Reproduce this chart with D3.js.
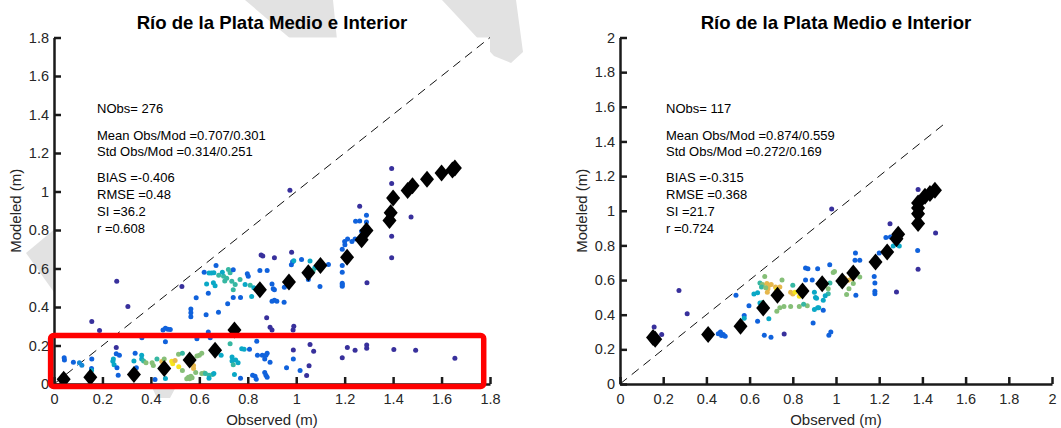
<!DOCTYPE html>
<html>
<head>
<meta charset="utf-8">
<script src="https://cdn.jsdelivr.net/npm/d3@7"></script>
<style>
  body { margin: 0; background: #fff; }
  svg { display: block; font-family: "Liberation Sans", Arial, Helvetica, sans-serif; }
  .axis path, .axis line { stroke: #1a1a1a; stroke-width: 2.5; }
  .axis text { fill: #262626; font-size: 14.5px; font-family: "Liberation Sans", Arial, sans-serif; }
</style>
</head>
<body>
<svg id="chart"></svg>
<script>
// scatter points: [observed, modeled, density level 0..7]
const ptsA = [
  [0.042,0.136,1],[0.043,0.125,1],[0.08,0.113,1],[0.105,0.11,2],[0.115,0.097,2],[0.156,0.13,1],[0.155,0.08,1],
  [0.155,0.07,3],[0.156,0.325,0],[0.188,0.278,0],[0.257,0.19,0],[0.257,0.157,1],[0.245,0.13,3],[0.243,0.118,3],
  [0.248,0.10,3],[0.27,0.15,1],[0.26,0.085,1],[0.265,0.045,1],[0.305,0.403,0],[0.259,0.534,0],[0.335,0.16,1],
  [0.33,0.12,3],[0.34,0.085,1],[0.362,0.15,3],[0.362,0.13,3],[0.363,0.24,1],[0.37,0.12,4],[0.38,0.11,5],
  [0.41,0.096,5],[0.405,0.11,5],[0.417,0.023,1],[0.425,0.13,4],[0.445,0.117,6],[0.455,0.13,5],[0.46,0.29,1],
  [0.47,0.285,1],[0.45,0.28,1],[0.48,0.283,1],[0.46,0.22,1],[0.46,0.028,3],[0.486,0.118,7],[0.49,0.105,7],
  [0.50,0.122,6],[0.514,0.155,5],[0.515,0.09,7],[0.53,0.16,4],[0.548,0.027,5],[0.555,0.035,5],[0.56,0.027,5],
  [0.565,0.04,5],[0.57,0.032,5],[0.53,0.07,5],[0.576,0.096,6],[0.576,0.08,6],[0.585,0.06,5],[0.60,0.15,5],
  [0.59,0.145,5],[0.59,0.235,1],[0.61,0.16,5],[0.61,0.055,5],[0.62,0.057,5],[0.625,0.055,4],[0.64,0.045,4],
  [0.64,0.03,3],[0.655,0.05,4],[0.66,0.055,3],[0.637,0.27,1],[0.645,0.24,1],[0.69,0.15,3],[0.727,0.209,4],
  [0.735,0.14,3],[0.735,0.12,3],[0.74,0.1,4],[0.745,0.05,3],[0.75,0.125,3],[0.76,0.11,3],[0.775,0.183,3],
  [0.785,0.18,3],[0.77,0.03,1],[0.807,0.18,1],[0.837,0.222,1],[0.82,0.045,1],[0.83,0.04,1],[0.835,0.025,1],
  [0.84,0.15,1],[0.86,0.15,1],[0.875,0.15,1],[0.87,0.13,1],[0.88,0.16,1],[0.87,0.06,1],[0.875,0.045,1],
  [0.88,0.035,1],[0.892,0.113,1],[0.892,0.295,0],[0.90,0.28,0],[0.96,0.084,1],[0.988,0.177,0],[0.988,0.13,1],
  [1.016,0.07,1],[1.043,0.044,0],[1.057,0.205,0],[1.072,0.17,0],[1.053,0.095,0],[1.19,0.136,0],[1.211,0.19,0],
  [1.243,0.175,0],[1.291,0.203,0],[1.291,0.186,0],[1.403,0.179,0],[1.493,0.175,0],[1.655,0.134,0],[0.987,0.28,0],
  [0.99,0.30,0],[0.878,0.344,0],
  [0.528,0.507,0],[0.669,0.616,1],[0.64,0.576,3],[0.65,0.576,3],[0.66,0.578,3],[0.63,0.52,3],[0.637,0.472,1],
  [0.62,0.58,1],[0.658,0.526,3],[0.665,0.51,3],[0.70,0.56,4],[0.713,0.55,4],[0.727,0.578,4],[0.734,0.534,4],
  [0.748,0.517,4],[0.74,0.49,4],[0.74,0.594,1],[0.768,0.543,4],[0.789,0.517,3],[0.81,0.513,4],[0.802,0.56,1],
  [0.798,0.573,1],[0.74,0.45,1],[0.77,0.45,1],[0.717,0.417,1],[0.679,0.373,1],[0.587,0.448,1],[0.565,0.35,1],
  [0.565,0.37,1],[0.565,0.39,1],[0.628,0.36,1],[0.816,0.455,3],[0.825,0.50,3],[0.855,0.67,0],[0.862,0.665,0],
  [0.91,0.656,0],[0.85,0.59,1],[0.88,0.59,1],[0.90,0.52,1],[0.905,0.495,1],[0.91,0.49,1],[0.90,0.43,1],
  [0.91,0.435,1],[0.92,0.43,1],[0.95,0.425,1],[0.981,0.685,0],[0.98,0.62,1],[0.985,0.635,1],[0.99,0.64,3],
  [0.951,0.503,1],[1.022,0.647,1],[1.057,0.639,3],[1.077,0.604,3],[1.105,0.612,4],[1.133,0.621,1],[1.05,0.543,1],
  [1.07,0.59,4],[1.098,0.507,1],[1.19,0.70,1],[1.19,0.616,1],[1.19,0.58,1],[1.19,0.524,1],[1.19,0.515,1],
  [1.19,0.508,1],[1.20,0.74,1],[1.23,0.74,1],[1.201,0.724,1],[1.212,0.753,1],[1.243,0.753,1],[1.27,0.793,1],
  [1.245,0.845,1],[1.262,0.847,1],[1.29,0.841,1],[1.29,0.876,1],[1.262,0.923,0],[1.292,0.526,0],[1.394,0.656,0],
  [1.394,0.767,0],[1.474,0.867,0],[1.394,1.041,0],[1.394,1.119,0],[0.974,1.006,0],
  [0.68,0.565,4],[0.695,0.58,3],[0.72,0.595,4],[0.705,0.535,4]
];
const binsA = [
  [0.04,0.025],[0.15,0.035],[0.33,0.05],[0.455,0.08],[0.56,0.125],[0.665,0.175],[0.745,0.28],[0.85,0.49],
  [0.97,0.53],[1.05,0.578],[1.10,0.615],[1.21,0.658],[1.27,0.75],[1.29,0.798],[1.385,0.85],[1.39,0.89],
  [1.40,0.966],[1.46,1.005],[1.48,1.03],[1.54,1.063],[1.60,1.096],[1.645,1.112],[1.655,1.122]
];
const ptsB = [
  [0.158,0.329,0],[0.193,0.285,0],[0.273,0.539,0],[0.311,0.406,0],[0.537,0.512,1],[0.455,0.29,1],[0.465,0.30,1],
  [0.47,0.28,1],[0.478,0.285,1],[0.487,0.275,1],[0.597,0.452,1],[0.575,0.395,1],[0.575,0.38,3],[0.637,0.362,1],
  [0.668,0.281,1],[0.699,0.27,1],[0.76,0.289,0],[0.689,0.377,3],[0.648,0.468,3],[0.637,0.526,3],[0.648,0.583,4],
  [0.67,0.62,5],[0.66,0.575,5],[0.655,0.56,4],[0.68,0.58,6],[0.682,0.53,6],[0.685,0.55,6],[0.69,0.57,6],
  [0.675,0.555,5],[0.70,0.575,6],[0.72,0.56,6],[0.725,0.545,7],[0.73,0.53,7],[0.74,0.56,6],[0.75,0.60,5],
  [0.726,0.42,5],[0.759,0.448,5],[0.79,0.448,5],[0.79,0.53,6],[0.80,0.52,6],[0.81,0.53,7],[0.83,0.506,7],
  [0.835,0.52,6],[0.80,0.57,4],[0.83,0.448,5],[0.867,0.452,5],[0.859,0.67,1],[0.87,0.665,1],[0.915,0.665,1],
  [0.859,0.60,1],[0.89,0.60,1],[0.894,0.352,1],[0.90,0.53,3],[0.905,0.50,3],[0.91,0.495,3],[0.90,0.43,3],
  [0.915,0.44,3],[0.92,0.44,3],[0.971,0.689,1],[0.964,0.521,4],[0.987,0.643,5],[0.993,0.65,5],[0.972,0.583,4],
  [0.941,0.483,3],[0.95,0.51,3],[0.964,0.55,5],[0.941,0.426,1],[0.967,0.281,1],[0.976,0.30,1],[1.049,0.516,5],
  [1.057,0.599,6],[1.072,0.608,6],[1.08,0.58,5],[1.11,0.617,5],[1.088,0.714,1],[1.09,0.756,1],[1.11,0.714,1],
  [1.092,0.512,1],[1.177,0.621,1],[1.18,0.583,1],[1.18,0.535,1],[1.18,0.521,1],[1.2,0.756,1],[1.231,0.845,1],
  [1.252,0.849,1],[1.265,0.797,3],[1.293,0.797,3],[1.25,0.925,0],[1.28,0.531,0],[1.378,0.771,1],[1.38,0.662,0],
  [1.461,0.872,0],[1.38,1.122,0],[0.98,1.01,0],[0.62,0.52,3],[0.66,0.47,4],[0.74,0.44,5],[0.85,0.46,4],
  [1.06,0.55,5],[1.02,0.58,4],[1.04,0.61,6]
];
const binsB = [
  [0.153,0.268],[0.163,0.258],[0.408,0.285],[0.558,0.333],[0.663,0.439],[0.729,0.512],[0.845,0.537],
  [0.936,0.579],[1.029,0.595],[1.08,0.641],[1.183,0.704],[1.237,0.762],[1.28,0.839],[1.288,0.864],
  [1.38,0.926],[1.38,0.983],[1.38,1.016],[1.38,1.045],[1.412,1.083],[1.435,1.10],[1.458,1.118]
];
const statsA = ["NObs= 276", "Mean Obs/Mod =0.707/0.301", "Std Obs/Mod =0.314/0.251",
  "BIAS =-0.406", "RMSE =0.48", "SI =36.2", "r =0.608"];
const statsB = ["NObs= 117", "Mean Obs/Mod =0.874/0.559", "Std Obs/Mod =0.272/0.169",
  "BIAS =-0.315", "RMSE =0.368", "SI =21.7", "r =0.724"];
const ticksA = [0, 0.2, 0.4, 0.6, 0.8, 1, 1.2, 1.4, 1.6, 1.8];
const ticksB = [0, 0.2, 0.4, 0.6, 0.8, 1, 1.2, 1.4, 1.6, 1.8, 2];
const title = "Río de la Plata Medio e Interior";
const highlightBox = [-0.014, -0.013, 1.774, 0.252]; // x0, y0, x1, y1 in data units

// density colours (parula-like)
const levelColors = ["#38309c", "#1062dc", "#1588d6", "#0aa8c6", "#36b7a2", "#86bf78", "#e6b74c", "#f7e41c"];

const W = 1061, H = 428;
const svg = d3.select("#chart").attr("width", W).attr("height", H);

// faint background watermark (decoration only)
const watermark = [
  [[245,0],[333,0],[337,40],[292,40]],
  [[442,0],[516,0],[523,52],[511,63],[494,56],[470,30]],
  [[56,228],[26,253],[56,295]],
  [[150,383],[178,383],[170,398],[157,398]]
];
svg.append("g").selectAll("path").data(watermark).enter().append("path")
  .attr("d", d => d3.line().curve(d3.curveLinearClosed)(d))
  .attr("fill", "#e2e2e2");

const plotTop = 37.5, plotBottom = 384;
const panels = [
  { pts: ptsA, bins: binsA, stats: statsA, ticks: ticksA, max: 1.8, diag: 1.8, left: 54, width: 436, textX: 43, box: highlightBox },
  { pts: ptsB, bins: binsB, stats: statsB, ticks: ticksB, max: 2, diag: 1.5, left: 620, width: 432, textX: 46, box: null }
];
const statLineY = [113, 140, 156, 182, 199, 216, 233];
const fmt = d => String(+d.toFixed(1));
const diamond = "M0,-8.5L7,0L0,8.5L-7,0Z";

panels.forEach(p => {
  const x = d3.scaleLinear().domain([0, p.max]).range([p.left, p.left + p.width]);
  const y = d3.scaleLinear().domain([0, p.max]).range([plotBottom, plotTop]);
  const g = svg.append("g");

  g.append("rect")
    .attr("x", p.left).attr("y", plotTop)
    .attr("width", p.width).attr("height", plotBottom - plotTop)
    .attr("fill", "#fff");

  // 1:1 line
  g.append("line")
    .attr("x1", x(0)).attr("y1", y(0))
    .attr("x2", x(p.diag)).attr("y2", y(p.diag))
    .attr("stroke", "#111").attr("stroke-width", 1)
    .attr("stroke-dasharray", "9,6");

  g.append("g").selectAll("circle")
    .data(p.pts).enter().append("circle")
    .attr("cx", d => x(d[0])).attr("cy", d => y(d[1]))
    .attr("r", 2.5)
    .attr("fill", d => levelColors[d[2]]);

  g.append("g").selectAll("path")
    .data(p.bins).enter().append("path")
    .attr("d", diamond)
    .attr("transform", d => "translate(" + x(d[0]) + "," + y(d[1]) + ")")
    .attr("fill", "#000");

  g.append("g")
    .attr("class", "axis")
    .attr("transform", "translate(0," + plotBottom + ")")
    .call(d3.axisBottom(x).tickValues(p.ticks).tickFormat(fmt).tickSizeInner(-7).tickSizeOuter(0).tickPadding(10));

  g.append("g")
    .attr("class", "axis")
    .attr("transform", "translate(" + p.left + ",0)")
    .call(d3.axisLeft(y).tickValues(p.ticks).tickFormat(fmt).tickSizeInner(-7).tickSizeOuter(0).tickPadding(5));

  g.append("text")
    .attr("x", p.left + p.width / 2).attr("y", 29)
    .attr("text-anchor", "middle")
    .attr("font-weight", "bold").attr("font-size", "18.6px")
    .attr("fill", "#000")
    .text(title);

  g.append("text")
    .attr("x", p.left + p.width / 2).attr("y", 425)
    .attr("text-anchor", "middle")
    .attr("font-size", "15px").attr("fill", "#262626")
    .text("Observed (m)");

  g.append("text")
    .attr("transform", "translate(" + (p.left - 33) + "," + ((plotTop + plotBottom) / 2) + ") rotate(-90)")
    .attr("text-anchor", "middle")
    .attr("font-size", "15px").attr("fill", "#262626")
    .text("Modeled (m)");

  g.append("g").selectAll("text")
    .data(p.stats).enter().append("text")
    .attr("x", p.left + p.textX)
    .attr("y", (d, i) => statLineY[i])
    .attr("font-size", "13px").attr("fill", "#000")
    .text(d => d);

  if (p.box) {
    const b = p.box;
    g.append("rect")
      .attr("x", x(b[0])).attr("y", y(b[3]))
      .attr("width", x(b[2]) - x(b[0])).attr("height", y(b[1]) - y(b[3]))
      .attr("rx", 3)
      .attr("fill", "none").attr("stroke", "#ff0000").attr("stroke-width", 5.5);
  }
});
</script>
</body>
</html>
